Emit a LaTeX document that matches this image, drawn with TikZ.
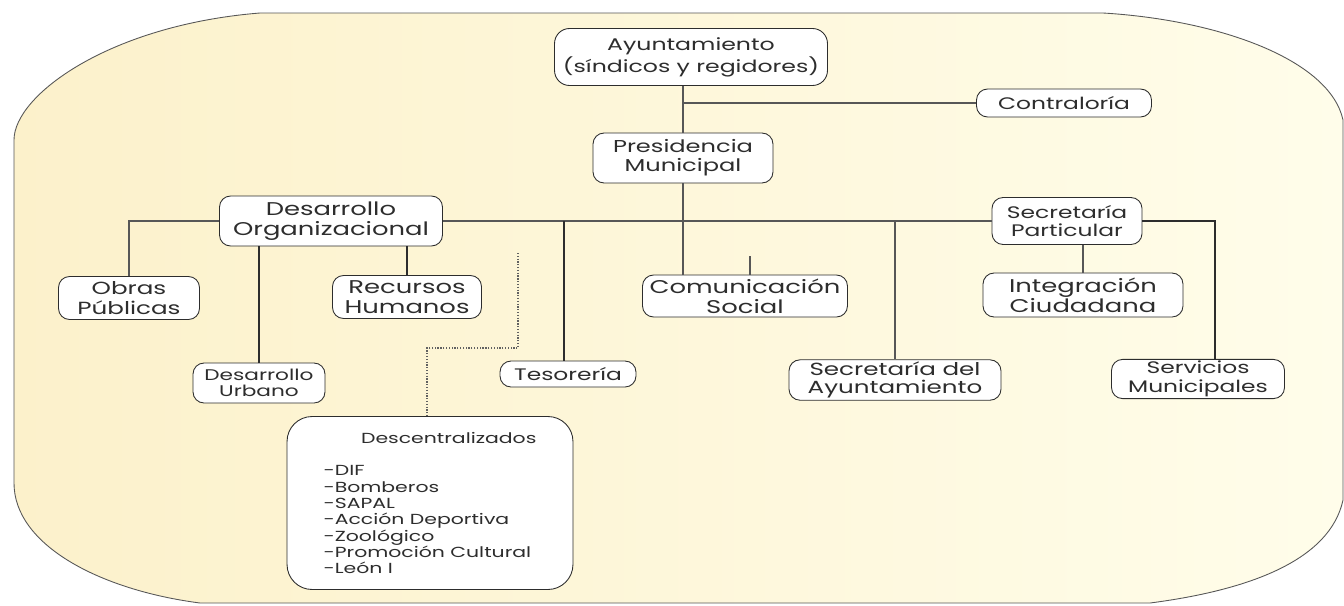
\documentclass[tikz,border=0pt]{standalone}
\usepackage{fontspec}
\setmainfont{Poppins}[FakeStretch=1.4]
\usetikzlibrary{positioning,calc}
\definecolor{ink}{RGB}{45,45,45}
\definecolor{creamleft}{RGB}{252,241,203}
\definecolor{creamright}{RGB}{255,253,234}
\tikzset{
    unit/.style={draw=ink, fill=white, rounded corners=0.22cm, align=center, font=\fontsize{10.5}{11.4}\selectfont, text=ink, inner sep=1pt, line width=0.5pt},
    smallunit/.style={unit, font=\fontsize{9.5}{10.6}\selectfont},
    link/.style={draw=ink!80, line width=0.6pt},
    heavy/.style={draw=ink, line width=1.1pt},
    dotlink/.style={draw=ink!75, line width=1pt, dash pattern=on 0.7pt off 0.9pt},
    backdrop/.style={draw=ink!80, line width=0.5pt, left color=creamleft, right color=creamright}
}

\begin{document}
\begin{tikzpicture}[x=0.02cm, y=-0.02cm]
\useasboundingbox (0,0) rectangle (1344,605);
\fill[white] (0,0) rectangle (1344,605);
% backdrop
\path[backdrop] (14,140) .. controls (14,95) and (110,25) .. (260,13) -- (1103,13)
  .. controls (1220,20) and (1330,60) .. (1343,120) -- (1343,500)
  .. controls (1330,560) and (1250,590) .. (1150,603) -- (200,603)
  .. controls (100,590) and (14,545) .. (14,483) -- cycle;

% top levels
\node[unit, rounded corners=0.3cm, minimum width=5.46cm, minimum height=1.14cm, font=\fontsize{9.6}{9.8}\selectfont] (ayunt) at (691,57) {Ayuntamiento\\(síndicos y regidores)};
\node[smallunit, minimum width=3.5cm, minimum height=0.56cm] (contral) at (1064,103) {Contraloría};
\node[unit, minimum width=3.6cm, minimum height=1cm, font=\fontsize{9.8}{11}\selectfont] (presid) at (683,158) {Presidencia\\Municipal};

% second level
\node[unit, minimum width=4.46cm, minimum height=1cm] (desorg) at (331,221) {Desarrollo\\Organizacional};
\node[smallunit, minimum width=3cm, minimum height=0.94cm] (secpar) at (1067,221) {Secretaría\\Particular};

% third level
\node[unit, minimum width=2.82cm, minimum height=0.86cm, font=\fontsize{10}{11}\selectfont] (obras) at (129,298) {Obras\\Públicas};
\node[unit, minimum width=2.98cm, minimum height=0.86cm] (rrhh) at (407,297) {Recursos\\Humanos};
\node[unit, minimum width=2.64cm, minimum height=0.8cm, font=\fontsize{8.8}{9.4}\selectfont] (desurb) at (259,383) {Desarrollo\\Urbano};
\node[smallunit, minimum width=2.72cm, minimum height=0.52cm] (tesor) at (568,374) {Tesorería};
\node[unit, minimum width=4.1cm, minimum height=0.84cm] (comsoc) at (745,296) {Comunicación\\Social};
\node[unit, minimum width=4.24cm, minimum height=0.72cm, font=\fontsize{10}{10.6}\selectfont] (secayu) at (895,380) {Secretaría del\\Ayuntamiento};
\node[unit, minimum width=4cm, minimum height=0.88cm] (integ) at (1083,295) {Integración\\Ciudadana};
\node[smallunit, minimum width=3.46cm, minimum height=0.76cm] (servm) at (1198,379) {Servicios\\Municipales};
\node[unit, rounded corners=0.5cm, minimum width=5.72cm, minimum height=3.46cm, align=left, font=\fontsize{8.3}{9.3}\selectfont] (descen) at (430,503)
  {\hspace*{0.75cm}Descentralizados\\[0.33cm]-DIF\\-Bomberos\\-SAPAL\\-Acción Deportiva\\-Zoológico\\-Promoción Cultural\\-León I};

% connectors
\coordinate (stub) at (750,256);
\coordinate (dotstart) at (518,253);
\coordinate (dotbend) at (427,348);
\draw[link] (ayunt.south -| presid.north) -- (presid.north);
\draw[link] (contral.west) -- (contral.west -| presid.north);
\draw[link] (presid.south) -- (presid.south |- comsoc.north);
\draw[link] (stub) -- (stub |- comsoc.north);
\draw[link] (desorg.east) -- (secpar.west);
\draw[link] (desorg.west) -| (obras.north);
\draw[heavy] (desorg.south -| desurb.north) -- (desurb.north);
\draw[heavy] (desorg.south -| rrhh.north) -- (rrhh.north);
\draw[heavy] ([xshift=-0.08cm]tesor.north |- desorg.east) -- ([xshift=-0.08cm]tesor.north);
\draw[link] (secayu.north |- secpar.west) -- (secayu.north);
\draw[link] (secpar.south -| integ.north) -- (integ.north);
\draw[heavy] (secpar.east) -| ([xshift=0.34cm]servm.north);
\draw[dotlink] (dotstart) |- (dotbend) -- (dotbend |- descen.north);
\end{tikzpicture}
\end{document}
